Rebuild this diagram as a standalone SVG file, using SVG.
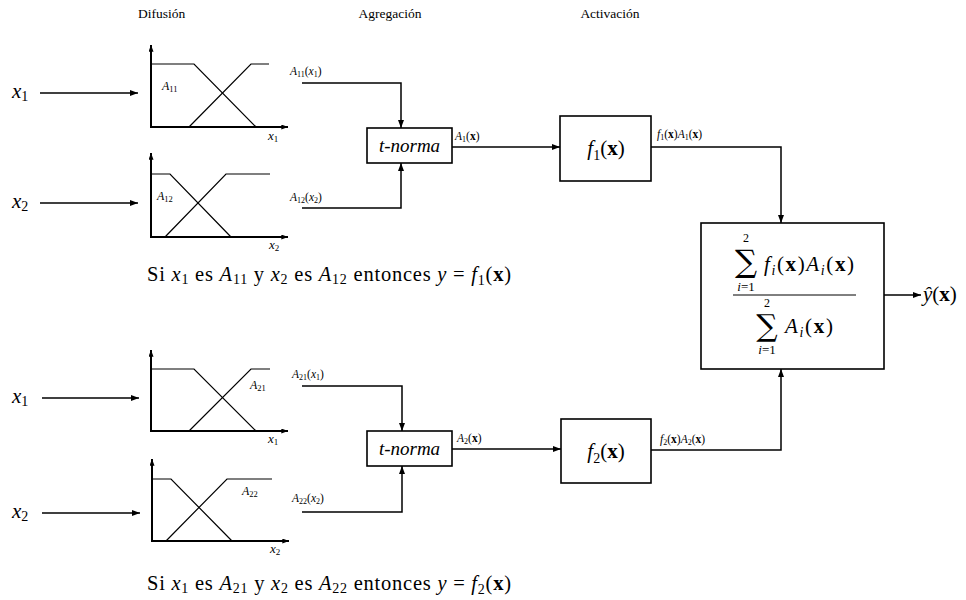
<svg xmlns="http://www.w3.org/2000/svg" width="966" height="600" viewBox="0 0 966 600">
<defs>
<marker id="arr" viewBox="0 0 8 6" refX="8" refY="3" markerWidth="8" markerHeight="6" markerUnits="userSpaceOnUse" orient="auto"><path d="M0,0 L8,3 L0,6 z" fill="#000"/></marker>
<marker id="ax" viewBox="0 0 8 6" refX="8" refY="3" markerWidth="7" markerHeight="5" markerUnits="userSpaceOnUse" orient="auto"><path d="M0,0 L8,3 L0,6 z" fill="#000"/></marker>
</defs>
<style>
text{font-family:"Liberation Serif","DejaVu Serif",serif;fill:#000}
.m{font-style:italic}
.b{font-weight:bold;font-style:normal}
.n{font-style:normal}
.hdr{font-size:13.5px}
.axis{stroke:#000;stroke-width:2;fill:none}
.mf{stroke:#000;stroke-width:1.2;fill:none}
.box{stroke:#000;stroke-width:1.6;fill:#fff}
.con{stroke:#000;stroke-width:1.5;fill:none}
.sig{font-family:"DejaVu Serif",serif;font-style:normal}
</style>
<rect width="966" height="600" fill="#fff"/>

<g id="headers">
<text class="hdr" x="138" y="18">Difusión</text>
<text class="hdr" x="390" y="18" text-anchor="middle">Agregación</text>
<text class="hdr" x="610" y="18" text-anchor="middle">Activación</text>
</g>

<g id="in-x1-top"><text class="m" x="12" y="98" font-size="21">x<tspan class="n" font-size="14" dy="3">1</tspan></text></g>
<g id="in-x2-top"><text class="m" x="12" y="208" font-size="21">x<tspan class="n" font-size="14" dy="3">2</tspan></text></g>
<g id="in-x1-bot"><text class="m" x="12" y="403" font-size="21">x<tspan class="n" font-size="14" dy="3">1</tspan></text></g>
<g id="in-x2-bot"><text class="m" x="12" y="518" font-size="21">x<tspan class="n" font-size="14" dy="3">2</tspan></text></g>

<g id="plot-A11">
<line class="axis" x1="151" y1="127" x2="151" y2="45" marker-end="url(#ax)"/>
<line class="axis" x1="150" y1="127" x2="288" y2="127" marker-end="url(#ax)"/>
<polyline class="mf" points="151,64 194,64 256,127"/>
<polyline class="mf" points="189,127 251,64 269,64"/>
<text class="m" x="162" y="90" font-size="12">A<tspan class="n" font-size="8.5" dy="2">11</tspan></text>
<text class="m" x="268" y="140" font-size="13">x<tspan class="n" font-size="9" dy="2">1</tspan></text>
</g>

<g id="plot-A12">
<line class="axis" x1="151" y1="237" x2="151" y2="153" marker-end="url(#ax)"/>
<line class="axis" x1="150" y1="237" x2="288" y2="237" marker-end="url(#ax)"/>
<polyline class="mf" points="151,174 170,174 231,237"/>
<polyline class="mf" points="165,237 226,174 270,174"/>
<text class="m" x="157" y="200" font-size="12">A<tspan class="n" font-size="8.5" dy="2">12</tspan></text>
<text class="m" x="269" y="249" font-size="13">x<tspan class="n" font-size="9" dy="2">2</tspan></text>
</g>

<g id="plot-A21">
<line class="axis" x1="151" y1="431" x2="151" y2="350" marker-end="url(#ax)"/>
<line class="axis" x1="150" y1="431" x2="288" y2="431" marker-end="url(#ax)"/>
<polyline class="mf" points="151,369 194,369 256,431"/>
<polyline class="mf" points="189,431 251,369 270,369"/>
<text class="m" x="250" y="389" font-size="12">A<tspan class="n" font-size="8.5" dy="2">21</tspan></text>
<text class="m" x="268" y="443" font-size="13">x<tspan class="n" font-size="9" dy="2">1</tspan></text>
</g>

<g id="plot-A22">
<line class="axis" x1="152" y1="541" x2="152" y2="459" marker-end="url(#ax)"/>
<line class="axis" x1="151" y1="541" x2="289" y2="541" marker-end="url(#ax)"/>
<polyline class="mf" points="152,479 171,479 232,541"/>
<polyline class="mf" points="166,541 227,479 272,479"/>
<text class="m" x="242" y="495" font-size="12">A<tspan class="n" font-size="8.5" dy="2">22</tspan></text>
<text class="m" x="270" y="553" font-size="13">x<tspan class="n" font-size="9" dy="2">2</tspan></text>
</g>

<g id="connectors">
<line class="con" x1="40" y1="93" x2="138" y2="93" marker-end="url(#arr)"/>
<line class="con" x1="40" y1="203" x2="138" y2="203" marker-end="url(#arr)"/>
<line class="con" x1="42" y1="398" x2="139" y2="398" marker-end="url(#arr)"/>
<line class="con" x1="42" y1="513" x2="140" y2="513" marker-end="url(#arr)"/>
<path class="con" d="M302,83 H401 V128" marker-end="url(#arr)"/>
<path class="con" d="M302,208 H401 V163" marker-end="url(#arr)"/>
<path class="con" d="M302,386 H402 V431" marker-end="url(#arr)"/>
<path class="con" d="M302,512 H402 V466" marker-end="url(#arr)"/>
<path class="con" d="M452,147 H560" marker-end="url(#arr)"/>
<path class="con" d="M452,449 H561" marker-end="url(#arr)"/>
<path class="con" d="M651,147 H781 V223" marker-end="url(#arr)"/>
<path class="con" d="M651,450 H781 V369" marker-end="url(#arr)"/>
<path class="con" d="M884,295 H921" marker-end="url(#arr)"/>
</g>

<g id="conn-labels">
<text class="m" x="290" y="75" font-size="11.5">A<tspan class="n" font-size="8" dy="2">11</tspan><tspan class="n" dy="-2">(</tspan>x<tspan class="n" font-size="8" dy="2">1</tspan><tspan class="n" dy="-2">)</tspan></text>
<text class="m" x="290" y="201" font-size="11.5">A<tspan class="n" font-size="8" dy="2">12</tspan><tspan class="n" dy="-2">(</tspan>x<tspan class="n" font-size="8" dy="2">2</tspan><tspan class="n" dy="-2">)</tspan></text>
<text class="m" x="292" y="378" font-size="11.5">A<tspan class="n" font-size="8" dy="2">21</tspan><tspan class="n" dy="-2">(</tspan>x<tspan class="n" font-size="8" dy="2">1</tspan><tspan class="n" dy="-2">)</tspan></text>
<text class="m" x="292" y="502" font-size="11.5">A<tspan class="n" font-size="8" dy="2">22</tspan><tspan class="n" dy="-2">(</tspan>x<tspan class="n" font-size="8" dy="2">2</tspan><tspan class="n" dy="-2">)</tspan></text>
<text class="m" x="455" y="140" font-size="11.5">A<tspan class="n" font-size="8" dy="2">1</tspan><tspan class="n" dy="-2">(</tspan><tspan class="b">x</tspan><tspan class="n">)</tspan></text>
<text class="m" x="457" y="442" font-size="11.5">A<tspan class="n" font-size="8" dy="2">2</tspan><tspan class="n" dy="-2">(</tspan><tspan class="b">x</tspan><tspan class="n">)</tspan></text>
<text class="m" x="657" y="138" font-size="11.5">f<tspan class="n" font-size="8" dy="2">1</tspan><tspan class="n" dy="-2">(</tspan><tspan class="b">x</tspan><tspan class="n">)</tspan>A<tspan class="n" font-size="8" dy="2">1</tspan><tspan class="n" dy="-2">(</tspan><tspan class="b">x</tspan><tspan class="n">)</tspan></text>
<text class="m" x="660" y="443" font-size="11.5">f<tspan class="n" font-size="8" dy="2">2</tspan><tspan class="n" dy="-2">(</tspan><tspan class="b">x</tspan><tspan class="n">)</tspan>A<tspan class="n" font-size="8" dy="2">2</tspan><tspan class="n" dy="-2">(</tspan><tspan class="b">x</tspan><tspan class="n">)</tspan></text>
</g>

<g id="tnorma-1">
<rect class="box" x="367" y="128" width="85" height="35"/>
<text class="m" x="409.5" y="152" font-size="19" text-anchor="middle">t-norma</text>
</g>
<g id="tnorma-2">
<rect class="box" x="367" y="431" width="85" height="35"/>
<text class="m" x="409.5" y="455" font-size="19" text-anchor="middle">t-norma</text>
</g>

<g id="f1">
<rect class="box" x="560" y="116" width="91" height="65"/>
<text class="m" x="606" y="155" font-size="21" text-anchor="middle">f<tspan class="n" font-size="14" dy="5">1</tspan><tspan class="n" dy="-5">(</tspan><tspan class="b">x</tspan><tspan class="n">)</tspan></text>
</g>
<g id="f2">
<rect class="box" x="561" y="419" width="90" height="64"/>
<text class="m" x="606" y="458" font-size="21" text-anchor="middle">f<tspan class="n" font-size="14" dy="5">2</tspan><tspan class="n" dy="-5">(</tspan><tspan class="b">x</tspan><tspan class="n">)</tspan></text>
</g>

<g id="sum-box">
<rect class="box" x="701" y="223" width="183" height="146"/>
<text class="n" x="746" y="242" font-size="12" text-anchor="middle">2</text>
<text class="sig" x="746" y="272" font-size="31" text-anchor="middle">∑</text>
<text class="m" x="746" y="291" font-size="13" text-anchor="middle">i<tspan class="n">=1</tspan></text>
<text class="m" x="764" y="271" font-size="21" textLength="90" lengthAdjust="spacing">f<tspan font-size="14" dy="4">i</tspan><tspan class="n" dy="-4">(</tspan><tspan class="b">x</tspan><tspan class="n">)</tspan>A<tspan font-size="14" dy="4">i</tspan><tspan class="n" dy="-4">(</tspan><tspan class="b">x</tspan><tspan class="n">)</tspan></text>
<line x1="733" y1="295" x2="856" y2="295" stroke="#000" stroke-width="1"/>
<text class="n" x="767" y="307" font-size="12" text-anchor="middle">2</text>
<text class="sig" x="767" y="336" font-size="30" text-anchor="middle">∑</text>
<text class="m" x="767" y="354" font-size="13" text-anchor="middle">i<tspan class="n">=1</tspan></text>
<text class="m" x="785" y="333" font-size="21" textLength="48" lengthAdjust="spacing">A<tspan font-size="14" dy="4">i</tspan><tspan class="n" dy="-4">(</tspan><tspan class="b">x</tspan><tspan class="n">)</tspan></text>
</g>

<g id="output">
<text class="m" x="923" y="301" font-size="21">ŷ<tspan class="n">(</tspan><tspan class="b">x</tspan><tspan class="n">)</tspan></text>
</g>

<g id="rule-1">
<text x="147" y="281" font-size="20.5" textLength="364" lengthAdjust="spacing">Si <tspan class="m">x</tspan><tspan font-size="14" dy="3">1</tspan><tspan dy="-3"> es </tspan><tspan class="m">A</tspan><tspan font-size="14" dy="3">11</tspan><tspan dy="-3"> y </tspan><tspan class="m">x</tspan><tspan font-size="14" dy="3">2</tspan><tspan dy="-3"> es </tspan><tspan class="m">A</tspan><tspan font-size="14" dy="3">12</tspan><tspan dy="-3"> entonces </tspan><tspan class="m">y</tspan> = <tspan class="m">f</tspan><tspan font-size="14" dy="4">1</tspan><tspan dy="-4">(</tspan><tspan class="b">x</tspan>)</text>
</g>
<g id="rule-2">
<text x="147" y="590" font-size="20.5" textLength="364" lengthAdjust="spacing">Si <tspan class="m">x</tspan><tspan font-size="14" dy="3">1</tspan><tspan dy="-3"> es </tspan><tspan class="m">A</tspan><tspan font-size="14" dy="3">21</tspan><tspan dy="-3"> y </tspan><tspan class="m">x</tspan><tspan font-size="14" dy="3">2</tspan><tspan dy="-3"> es </tspan><tspan class="m">A</tspan><tspan font-size="14" dy="3">22</tspan><tspan dy="-3"> entonces </tspan><tspan class="m">y</tspan> = <tspan class="m">f</tspan><tspan font-size="14" dy="4">2</tspan><tspan dy="-4">(</tspan><tspan class="b">x</tspan>)</text>
</g>
</svg>
